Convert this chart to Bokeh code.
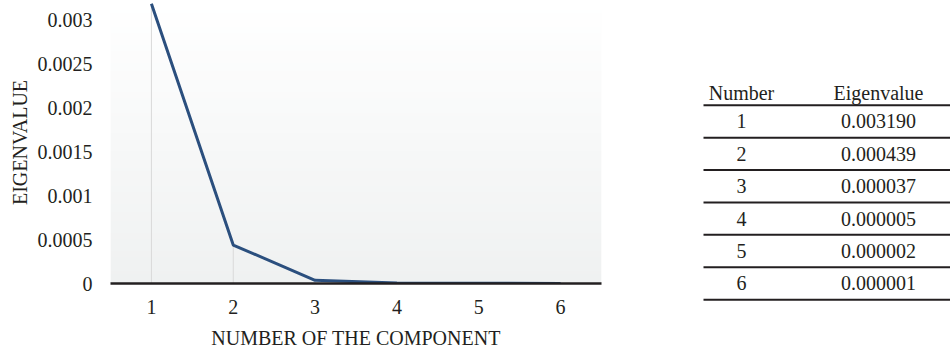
import numpy as np
from bokeh.plotting import figure
from bokeh.layouts import row, column
from bokeh.models import Range1d, FixedTicker
from bokeh.core.properties import value
from bokeh.embed import file_html
from bokeh.resources import INLINE

# ---------------- data ----------------
components = [1, 2, 3, 4, 5, 6]
eigenvalues = [0.003190, 0.000439, 0.000037, 0.000005, 0.000002, 0.000001]
y_ticks = [0, 0.0005, 0.001, 0.0015, 0.002, 0.0025, 0.003]
y_tick_labels = ["0", "0.0005", "0.001", "0.0015", "0.002", "0.0025", "0.003"]
table_headers = ["Number", "Eigenvalue"]
x_title = "NUMBER OF THE COMPONENT"
y_title = "EIGENVALUE"

# ---------------- style ----------------
FONT = "Liberation Serif"
INK = "#231f20"
LINE = "#2b4f7e"
DROP = "#d9d9d9"
FS = "20px"
Y_END = 0.003216
H = 351
CW = 606

p = figure(width=CW, height=H,
           x_range=Range1d(0.5, 6.5), y_range=Range1d(0, Y_END),
           output_backend="svg", toolbar_location=None,
           min_border_left=110, min_border_right=5,
           min_border_top=1, min_border_bottom=67)
p.outline_line_color = None
p.grid.visible = False
p.background_fill_color = "white"
p.border_fill_color = "white"

# vertical gradient background (white at top -> light grey at bottom)
n = 96
tt = np.linspace(0.0, 1.0, n)  # 0 = bottom, 1 = top
img = np.empty((n, 1), dtype=np.uint32)
view = img.view(dtype=np.uint8).reshape((n, 1, 4))
view[:, 0, 0] = np.round(239 + (255 - 239) * tt).astype(np.uint8)
view[:, 0, 1] = np.round(241 + (255 - 241) * tt).astype(np.uint8)
view[:, 0, 2] = np.round(241 + (255 - 241) * tt).astype(np.uint8)
view[:, 0, 3] = 255
p.image_rgba(image=[img], x=0.5, y=0, dw=6, dh=Y_END)

# drop lines and series
p.segment(x0=components, y0=[0] * len(components), x1=components, y1=eigenvalues,
          line_color=DROP, line_width=1)
p.line(components, eigenvalues, line_color=LINE, line_width=3)

# x axis
xa = p.xaxis[0]
xa.ticker = FixedTicker(ticks=components)
xa.axis_line_color = INK
xa.axis_line_width = 2.5
xa.major_tick_line_color = None
xa.minor_tick_line_color = None
xa.major_label_text_font = FONT
xa.major_label_text_font_size = FS
xa.major_label_text_color = INK
xa.major_label_standoff = 10
xa.axis_label = x_title
xa.axis_label_text_font = FONT
xa.axis_label_text_font_size = FS
xa.axis_label_text_font_style = "normal"
xa.axis_label_text_color = INK
xa.axis_label_standoff = 10

# y axis
ya = p.yaxis[0]
ya.ticker = FixedTicker(ticks=y_ticks)
ya.major_label_overrides = dict(zip(y_ticks, y_tick_labels))
ya.axis_line_color = None
ya.major_tick_line_color = None
ya.minor_tick_line_color = None
ya.major_label_text_font = FONT
ya.major_label_text_font_size = FS
ya.major_label_text_color = INK
ya.major_label_standoff = 12
ya.axis_label = y_title
ya.axis_label_text_font = FONT
ya.axis_label_text_font_size = FS
ya.axis_label_text_font_style = "normal"
ya.axis_label_text_color = INK
ya.axis_label_standoff = 4

# ---------------- table ----------------
TW = 344
t = figure(width=TW, height=H,
           x_range=Range1d(CW, CW + TW), y_range=Range1d(H, 0),
           output_backend="svg", toolbar_location=None,
           min_border=0)
t.axis.visible = False
t.grid.visible = False
t.outline_line_color = None
t.background_fill_color = "white"
t.border_fill_color = "white"

COL_X = [741, 878]
HEADER_Y = 92
FIRST_RULE = 104.75
ROW_H = 32.4
n_rows = len(components)
rule_ys = [FIRST_RULE + i * ROW_H for i in range(n_rows + 1)]
row_ys = [FIRST_RULE + (i + 0.5) * ROW_H for i in range(n_rows)]

t.segment(x0=[703] * len(rule_ys), x1=[960] * len(rule_ys), y0=rule_ys, y1=rule_ys,
          line_color=INK, line_width=2)

common = dict(text_font=value(FONT), text_font_size=FS, text_color=INK,
              text_align="center", text_baseline="middle")
t.text(x=COL_X, y=[HEADER_Y] * 2, text=table_headers, **common)
t.text(x=[COL_X[0]] * n_rows, y=row_ys, text=[str(c) for c in components], **common)
t.text(x=[COL_X[1]] * n_rows, y=row_ys, text=[f"{v:.6f}" for v in eigenvalues], **common)

layout = row(p, column(t))
open("out.html", "w").write(file_html(layout, INLINE))
